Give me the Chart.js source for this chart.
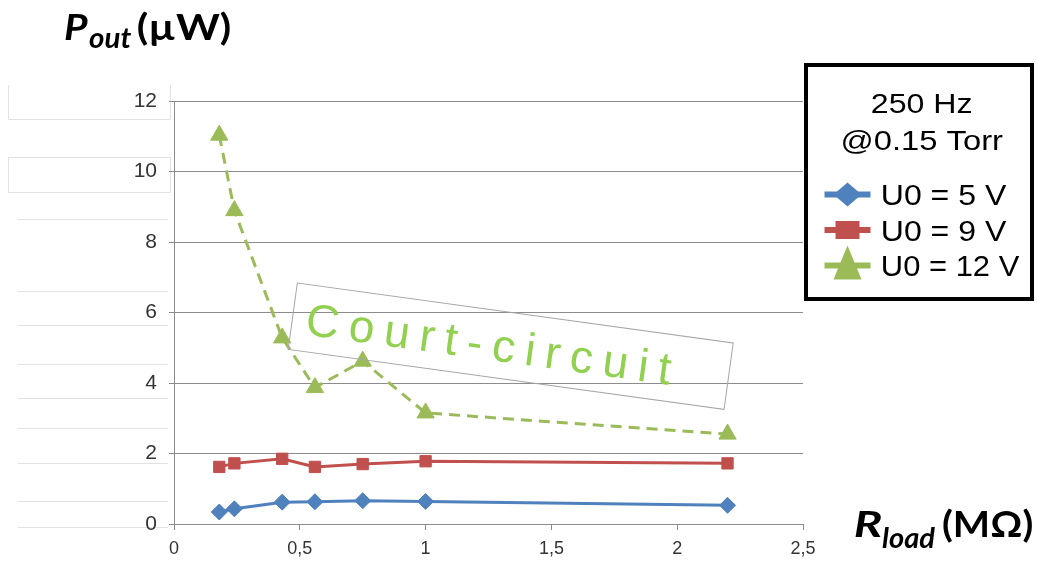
<!DOCTYPE html>
<html>
<head>
<meta charset="utf-8">
<script src="https://cdn.jsdelivr.net/npm/chart.js@4.4.0/dist/chart.umd.min.js"></script>
<style>
  html, body { margin: 0; padding: 0; background: #fff; overflow: hidden; }
  #wrap { width: 1037px; height: 563px; position: relative; }
</style>
</head>
<body>
<div id="wrap"><canvas id="chart" width="1037" height="563"></canvas></div>
<script>
// load resistance (MOhm) and output power (uW)
const rLoad = [0.18, 0.24, 0.43, 0.56, 0.75, 1.0, 2.2];
const p5V = [0.34, 0.43, 0.62, 0.63, 0.66, 0.64, 0.53];
const p9V = [1.62, 1.72, 1.85, 1.62, 1.70, 1.78, 1.72];
const p12V = [11.03, 8.89, 5.28, 3.87, 4.62, 3.15, 2.55];

const seriesNames = ['U0 = 5 V', 'U0 = 9 V', 'U0 = 12 V'];
const xTickLabels = ['0', '0,5', '1', '1,5', '2', '2,5'];
const yTickLabels = ['0', '2', '4', '6', '8', '10', '12'];
const legendTitle = ['250 Hz', '@0.15 Torr'];
const noteText = 'Court-circuit';

const BLUE = '#4F81BD', RED = '#C0504D', GREEN = '#9BBB59';
const GRID = '#8C8C8C';

const pts = (ys) => rLoad.map((x, i) => ({ x: x, y: ys[i] }));

// draw a text so that its ink spans x0..x1 on the given baseline
function fitText(ctx, s, font, x0, x1, base, color) {
  ctx.font = font;
  const m = ctx.measureText(s);
  const ink = m.actualBoundingBoxLeft + m.actualBoundingBoxRight;
  ctx.save();
  ctx.translate(x0, base);
  ctx.scale((x1 - x0) / ink, 1);
  ctx.fillStyle = color;
  ctx.textBaseline = 'alphabetic';
  ctx.textAlign = 'left';
  ctx.fillText(s, m.actualBoundingBoxLeft, 0);
  ctx.restore();
}

function legendIcon(ctx, i, cx, cy) {
  const col = [BLUE, RED, GREEN][i];
  ctx.save();
  ctx.strokeStyle = col;
  ctx.lineWidth = 6;
  ctx.beginPath();
  ctx.moveTo(cx - 23, cy);
  ctx.lineTo(cx + 23, cy);
  ctx.stroke();
  ctx.fillStyle = col;
  ctx.beginPath();
  if (i === 0) {
    ctx.moveTo(cx - 14, cy); ctx.lineTo(cx, cy - 12);
    ctx.lineTo(cx + 14, cy); ctx.lineTo(cx, cy + 12);
  } else if (i === 1) {
    ctx.rect(cx - 12, cy - 9, 24, 18);
  } else {
    ctx.moveTo(cx, cy - 20); ctx.lineTo(cx + 14, cy + 14); ctx.lineTo(cx - 14, cy + 14);
  }
  ctx.closePath();
  ctx.fill();
  ctx.restore();
}

const decor = {
  id: 'decor',
  beforeDraw(chart) {
    // faint leftover boxes at the left of the slide
    const ctx = chart.ctx;
    ctx.save();
    ctx.strokeStyle = '#E2E2E2';
    ctx.lineWidth = 1;
    ctx.beginPath();
    ctx.moveTo(8.5, 85); ctx.lineTo(8.5, 119.5); ctx.lineTo(170.5, 119.5); ctx.lineTo(170.5, 85);
    ctx.stroke();
    ctx.strokeRect(8.5, 157.5, 162, 35);
    [219.5, 291.5, 325.5, 364.5, 398.5, 428.5, 463.5, 501.5, 527.5].forEach(y => {
      ctx.beginPath(); ctx.moveTo(18, y); ctx.lineTo(168, y); ctx.stroke();
    });
    ctx.restore();
  },
  afterDraw(chart) {
    const ctx = chart.ctx;
    // axis titles
    fitText(ctx, 'P', 'italic bold 37px Lato', 65, 88, 40, '#000');
    fitText(ctx, 'out', 'italic bold 28px Lato', 89, 131, 48, '#000');
    fitText(ctx, '(\u00B5W)', 'bold 37px Lato', 138, 230, 40, '#000');
    fitText(ctx, 'R', 'italic bold 37px Lato', 855, 882, 537, '#000');
    fitText(ctx, 'load', 'italic bold 28px Lato', 882, 936, 548, '#000');
    fitText(ctx, '(M\u03A9)', 'bold 37px Lato', 943, 1032, 537, '#000');

    // legend box
    ctx.save();
    ctx.fillStyle = '#fff';
    ctx.fillRect(806, 65, 226, 234);
    ctx.strokeStyle = '#000';
    ctx.lineWidth = 4;
    ctx.strokeRect(806, 65, 226, 234);
    ctx.restore();
    fitText(ctx, legendTitle[0], '27px "Liberation Sans"', 872, 972, 113, '#000');
    fitText(ctx, legendTitle[1], '27px "Liberation Sans"', 843, 1003, 150, '#000');
    const ends = [1007, 1007, 1020];
    seriesNames.forEach((s, i) => {
      const base = 205 + i * 35.5;
      legendIcon(ctx, i, 847.5, base - 10.5);
      fitText(ctx, s, '29px "Liberation Sans"', 883, ends[i], base, '#000');
    });

    // rotated "Court-circuit" note
    ctx.save();
    ctx.translate(510.7, 346.2);
    ctx.rotate(7.84 * Math.PI / 180);
    ctx.strokeStyle = '#A6A6A6';
    ctx.lineWidth = 1;
    ctx.strokeRect(-220, -33.5, 440, 67);
    ctx.font = '46px "Liberation Sans"';
    ctx.fillStyle = '#92D050';
    ctx.textBaseline = 'alphabetic';
    const chars = noteText.split('');
    const adv = chars.map(c => ctx.measureText(c).width);
    const total = adv.reduce((a, b) => a + b, 0);
    const gap = (368 - total) / (chars.length - 1);
    let x = -220 + 14;
    chars.forEach((c, i) => { ctx.fillText(c, x, 16.5); x += adv[i] + gap; });
    ctx.restore();
  }
};

new Chart(document.getElementById('chart'), {
  type: 'line',
  data: {
    datasets: [
      {
        label: seriesNames[0], data: pts(p5V),
        borderColor: BLUE, backgroundColor: BLUE, borderWidth: 3,
        pointStyle: 'rectRot', pointRadius: 8, pointBorderWidth: 1,
      },
      {
        label: seriesNames[1], data: pts(p9V),
        borderColor: RED, backgroundColor: RED, borderWidth: 3,
        pointStyle: 'rect', pointRadius: 8, pointBorderWidth: 1,
      },
      {
        label: seriesNames[2], data: pts(p12V),
        borderColor: GREEN, backgroundColor: GREEN, borderWidth: 3,
        borderDash: [11, 7],
        pointStyle: 'triangle', pointRadius: 10, pointBorderWidth: 1,
      },
    ],
  },
  options: {
    responsive: false,
    animation: false,
    events: [],
    layout: { padding: { left: 0, top: 101, right: 234, bottom: 0 } },
    plugins: { legend: { display: false }, tooltip: { enabled: false } },
    scales: {
      x: {
        type: 'linear', min: 0, max: 2.5,
        afterFit: (s) => { s.height = 39; },
        grid: { drawOnChartArea: false, color: GRID, tickLength: 6 },
        border: { color: GRID },
        ticks: {
          stepSize: 0.5, padding: 8, color: '#333',
          font: { family: 'Liberation Sans', size: 18 },
          maxRotation: 0,
          callback: (v, i) => xTickLabels[i],
        },
      },
      y: {
        min: 0, max: 12,
        afterFit: (s) => { s.width = 174; },
        grid: { color: GRID, tickLength: 5 },
        border: { color: GRID },
        ticks: {
          stepSize: 2, padding: 12, color: '#333',
          font: { family: 'Liberation Sans', size: 21 },
          callback: (v, i) => yTickLabels[i],
        },
      },
    },
  },
  plugins: [decor],
});
</script>
</body>
</html>
